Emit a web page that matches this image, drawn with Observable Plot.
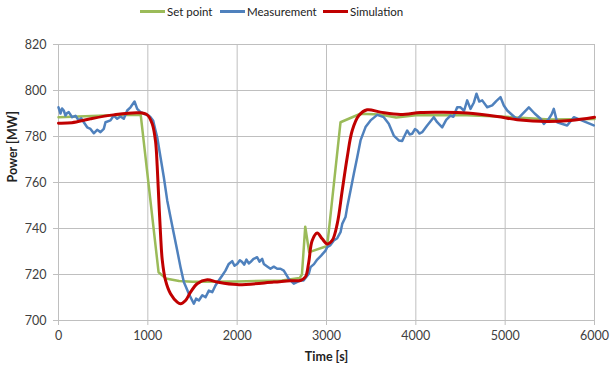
<!DOCTYPE html>
<html>
<head>
<meta charset="utf-8">
<script src="https://cdn.jsdelivr.net/npm/d3@7"></script>
<script src="https://cdn.jsdelivr.net/npm/@observablehq/plot@0.6"></script>
<style>
  body { margin: 0; background: #fff; }
  #wrap { position: relative; width: 610px; height: 371px; font-family: Lato, "Open Sans", sans-serif; }
  #legend { position: absolute; left: 0; top: 1px; width: 610px; height: 20px; font-size: 11.5px; color: #222; }
  .item { position: absolute; top: 0; height: 20px; display: flex; align-items: center; white-space: nowrap; }
  .sw { width: 25px; height: 3px; margin-right: 2px; }
  #chart { position: absolute; left: 0; top: 25px; }
</style>
</head>
<body>
<div id="wrap">
  <div id="legend"></div>
  <div id="chart"></div>
</div>
<script>
const seriesNames = ["Set point", "Measurement", "Simulation"];
const seriesColors = ["#9BBB59", "#4F81BD", "#C00000"];
const xTicks = [0, 1000, 2000, 3000, 4000, 5000, 6000];
const yTicks = [700, 720, 740, 760, 780, 800, 820];

const setT = [0, 300, 600, 920, 1120, 1200, 1350, 1500, 2000, 2500, 2700, 2725, 2762, 2806, 3008, 3157, 3380, 3600, 3780, 4000, 4500, 5000, 5500, 6000];
const setP = [788.4, 788.8, 789.2, 789.5, 721, 718.3, 717.2, 716.9, 717, 717.4, 718.5, 720, 740.8, 729.7, 732.4, 786.2, 789.9, 789.6, 788.3, 789.2, 789.3, 788.6, 787.4, 787.6];

const measT = [0, 22, 40, 59, 78, 95, 115, 153, 190, 227, 255, 283, 321, 358, 395, 433, 470, 507, 526, 582, 619, 657, 694, 731, 769, 806, 851, 881, 918, 955, 1011, 1030, 1060, 1086, 1105, 1142, 1179, 1217, 1254, 1291, 1329, 1366, 1403, 1459, 1515, 1540, 1571, 1610, 1646, 1683, 1721, 1757, 1794, 1833, 1869, 1906, 1944, 1970, 2000, 2030, 2056, 2080, 2104, 2130, 2149, 2183, 2224, 2250, 2280, 2298, 2340, 2373, 2410, 2448, 2485, 2522, 2578, 2634, 2709, 2743, 2802, 2821, 2860, 2896, 2940, 2989, 3008, 3040, 3082, 3120, 3157, 3176, 3213, 3232, 3269, 3306, 3344, 3381, 3437, 3493, 3568, 3641, 3697, 3753, 3809, 3847, 3866, 3903, 3930, 3959, 3990, 4015, 4040, 4071, 4100, 4127, 4201, 4239, 4295, 4340, 4388, 4420, 4463, 4500, 4540, 4575, 4612, 4650, 4679, 4710, 4743, 4799, 4855, 4900, 4948, 4985, 5023, 5135, 5265, 5330, 5396, 5433, 5489, 5520, 5544, 5582, 5694, 5768, 5992];
const measP = [792.7, 790, 792.2, 791.3, 789.1, 790.2, 790.6, 788.4, 789, 787, 787.9, 786.2, 784, 783.3, 781.4, 782.9, 781.9, 783.3, 786.2, 787, 789.1, 787.7, 788.7, 787.7, 791.3, 792.7, 795.2, 792, 790.6, 789.9, 789.1, 788.4, 786.8, 782.6, 779.7, 771, 762.3, 752.2, 744.9, 737.7, 730.4, 723.2, 716.7, 711.6, 707.3, 709.5, 708.7, 711, 710.1, 713, 712.3, 715.2, 717.4, 719.6, 721.7, 724.6, 725.8, 723.8, 724.6, 726.2, 725.4, 724.3, 726.5, 724.8, 725.4, 726.8, 727.5, 725.6, 726.8, 724.6, 723.4, 722.5, 723.4, 722.5, 722.5, 721.7, 718.1, 716, 717.4, 717.4, 720.3, 723.2, 724.5, 726.5, 728.2, 730.4, 731.9, 732.6, 734.8, 735.8, 738.4, 742, 745, 749.3, 756.5, 763.8, 771, 778.3, 784.1, 787, 789.4, 788.4, 785.5, 780.4, 778.3, 778, 779.7, 782.6, 780.9, 781.2, 783.2, 782.6, 781.3, 781.9, 783.4, 784.8, 788.4, 786.2, 784, 787.2, 789.1, 788.6, 792.7, 792.7, 791.2, 795.7, 792, 794.8, 798.6, 795.2, 795.7, 792.7, 793.5, 795.4, 797.1, 793.5, 791.3, 787.4, 792.7, 790, 787.7, 785.5, 787.7, 789.6, 792, 786.2, 784.8, 788.4, 784.8];

const simT = [0, 150, 358, 616, 900, 993, 1049, 1086, 1105, 1123, 1142, 1161, 1198, 1254, 1329, 1366, 1422, 1478, 1552, 1665, 1776, 2000, 2410, 2597, 2709, 2765, 2800, 2840, 2896, 2952, 3008, 3064, 3120, 3176, 3232, 3288, 3362, 3455, 3604, 3828, 4052, 4276, 4575, 4911, 5135, 5471, 5732, 6000];
const simP = [785.8, 786, 787.7, 789.4, 790.3, 789.4, 785.5, 778, 767, 752.2, 737.7, 726.5, 717.4, 711.6, 708, 707.3, 708.7, 712.3, 716, 717.7, 716.7, 715.6, 716.7, 717.3, 717.4, 719, 725, 734.8, 738, 735.5, 733.3, 734.8, 742, 756.5, 771, 782.6, 789.1, 791.6, 790.6, 789.6, 790.4, 790.5, 790.2, 788.7, 787.3, 786.5, 787, 788.4];

const setData = setT.map((t, i) => ({t, p: setP[i]}));
const measData = measT.map((t, i) => ({t, p: measP[i]}));
const simData = simT.map((t, i) => ({t, p: simP[i]}));

// legend
const legendLeft = [140, 220, 323];
const legend = document.getElementById("legend");
seriesNames.forEach((n, i) => {
  const it = document.createElement("div");
  it.className = "item";
  it.style.left = legendLeft[i] + "px";
  const sw = document.createElement("div");
  sw.className = "sw";
  sw.style.background = seriesColors[i];
  const tx = document.createElement("span");
  tx.textContent = n;
  it.appendChild(sw); it.appendChild(tx);
  legend.appendChild(it);
});

const grid = "#bfbfbf";
const chart = Plot.plot({
  width: 610,
  height: 346,
  marginTop: 19,
  marginBottom: 51,
  marginLeft: 58,
  marginRight: 16,
  style: {fontFamily: "Lato, 'Open Sans', sans-serif", fontSize: "12px", color: "#404040", background: "#fff"},
  x: {domain: [0, 6000]},
  y: {domain: [700, 820]},
  marks: [
    Plot.gridX(xTicks, {stroke: grid, strokeOpacity: 1, strokeWidth: 1}),
    Plot.gridY(yTicks, {stroke: grid, strokeOpacity: 1, strokeWidth: 1}),
    Plot.axisX(xTicks, {tickSize: 5, tickPadding: 6, stroke: grid, label: null, fill: "#404040", fontSize: 12.5, tickFormat: d => String(d)}),
    Plot.axisY(yTicks, {tickSize: 5, tickPadding: 7, stroke: grid, label: null, fill: "#404040", fontSize: 12.5, tickFormat: d => String(d)}),
    Plot.ruleX([0], {stroke: grid}),
    Plot.ruleY([700], {stroke: grid}),
    Plot.line(setData, {x: "t", y: "p", stroke: seriesColors[0], strokeWidth: 2.5}),
    Plot.line(measData, {x: "t", y: "p", stroke: seriesColors[1], strokeWidth: 2.5, strokeLinejoin: "round"}),
    Plot.line(simData, {x: "t", y: "p", stroke: seriesColors[2], strokeWidth: 3, curve: "catmull-rom"}),
    Plot.text(["Time [s]"], {frameAnchor: "bottom", dy: 40, fontWeight: "bold", fontSize: 12.5, fill: "#222"}),
    Plot.text(["Power [MW]"], {frameAnchor: "left", dx: -46, rotate: -90, fontWeight: "bold", fontSize: 12.5, fill: "#222"})
  ]
});
document.getElementById("chart").appendChild(chart);
</script>
</body>
</html>
